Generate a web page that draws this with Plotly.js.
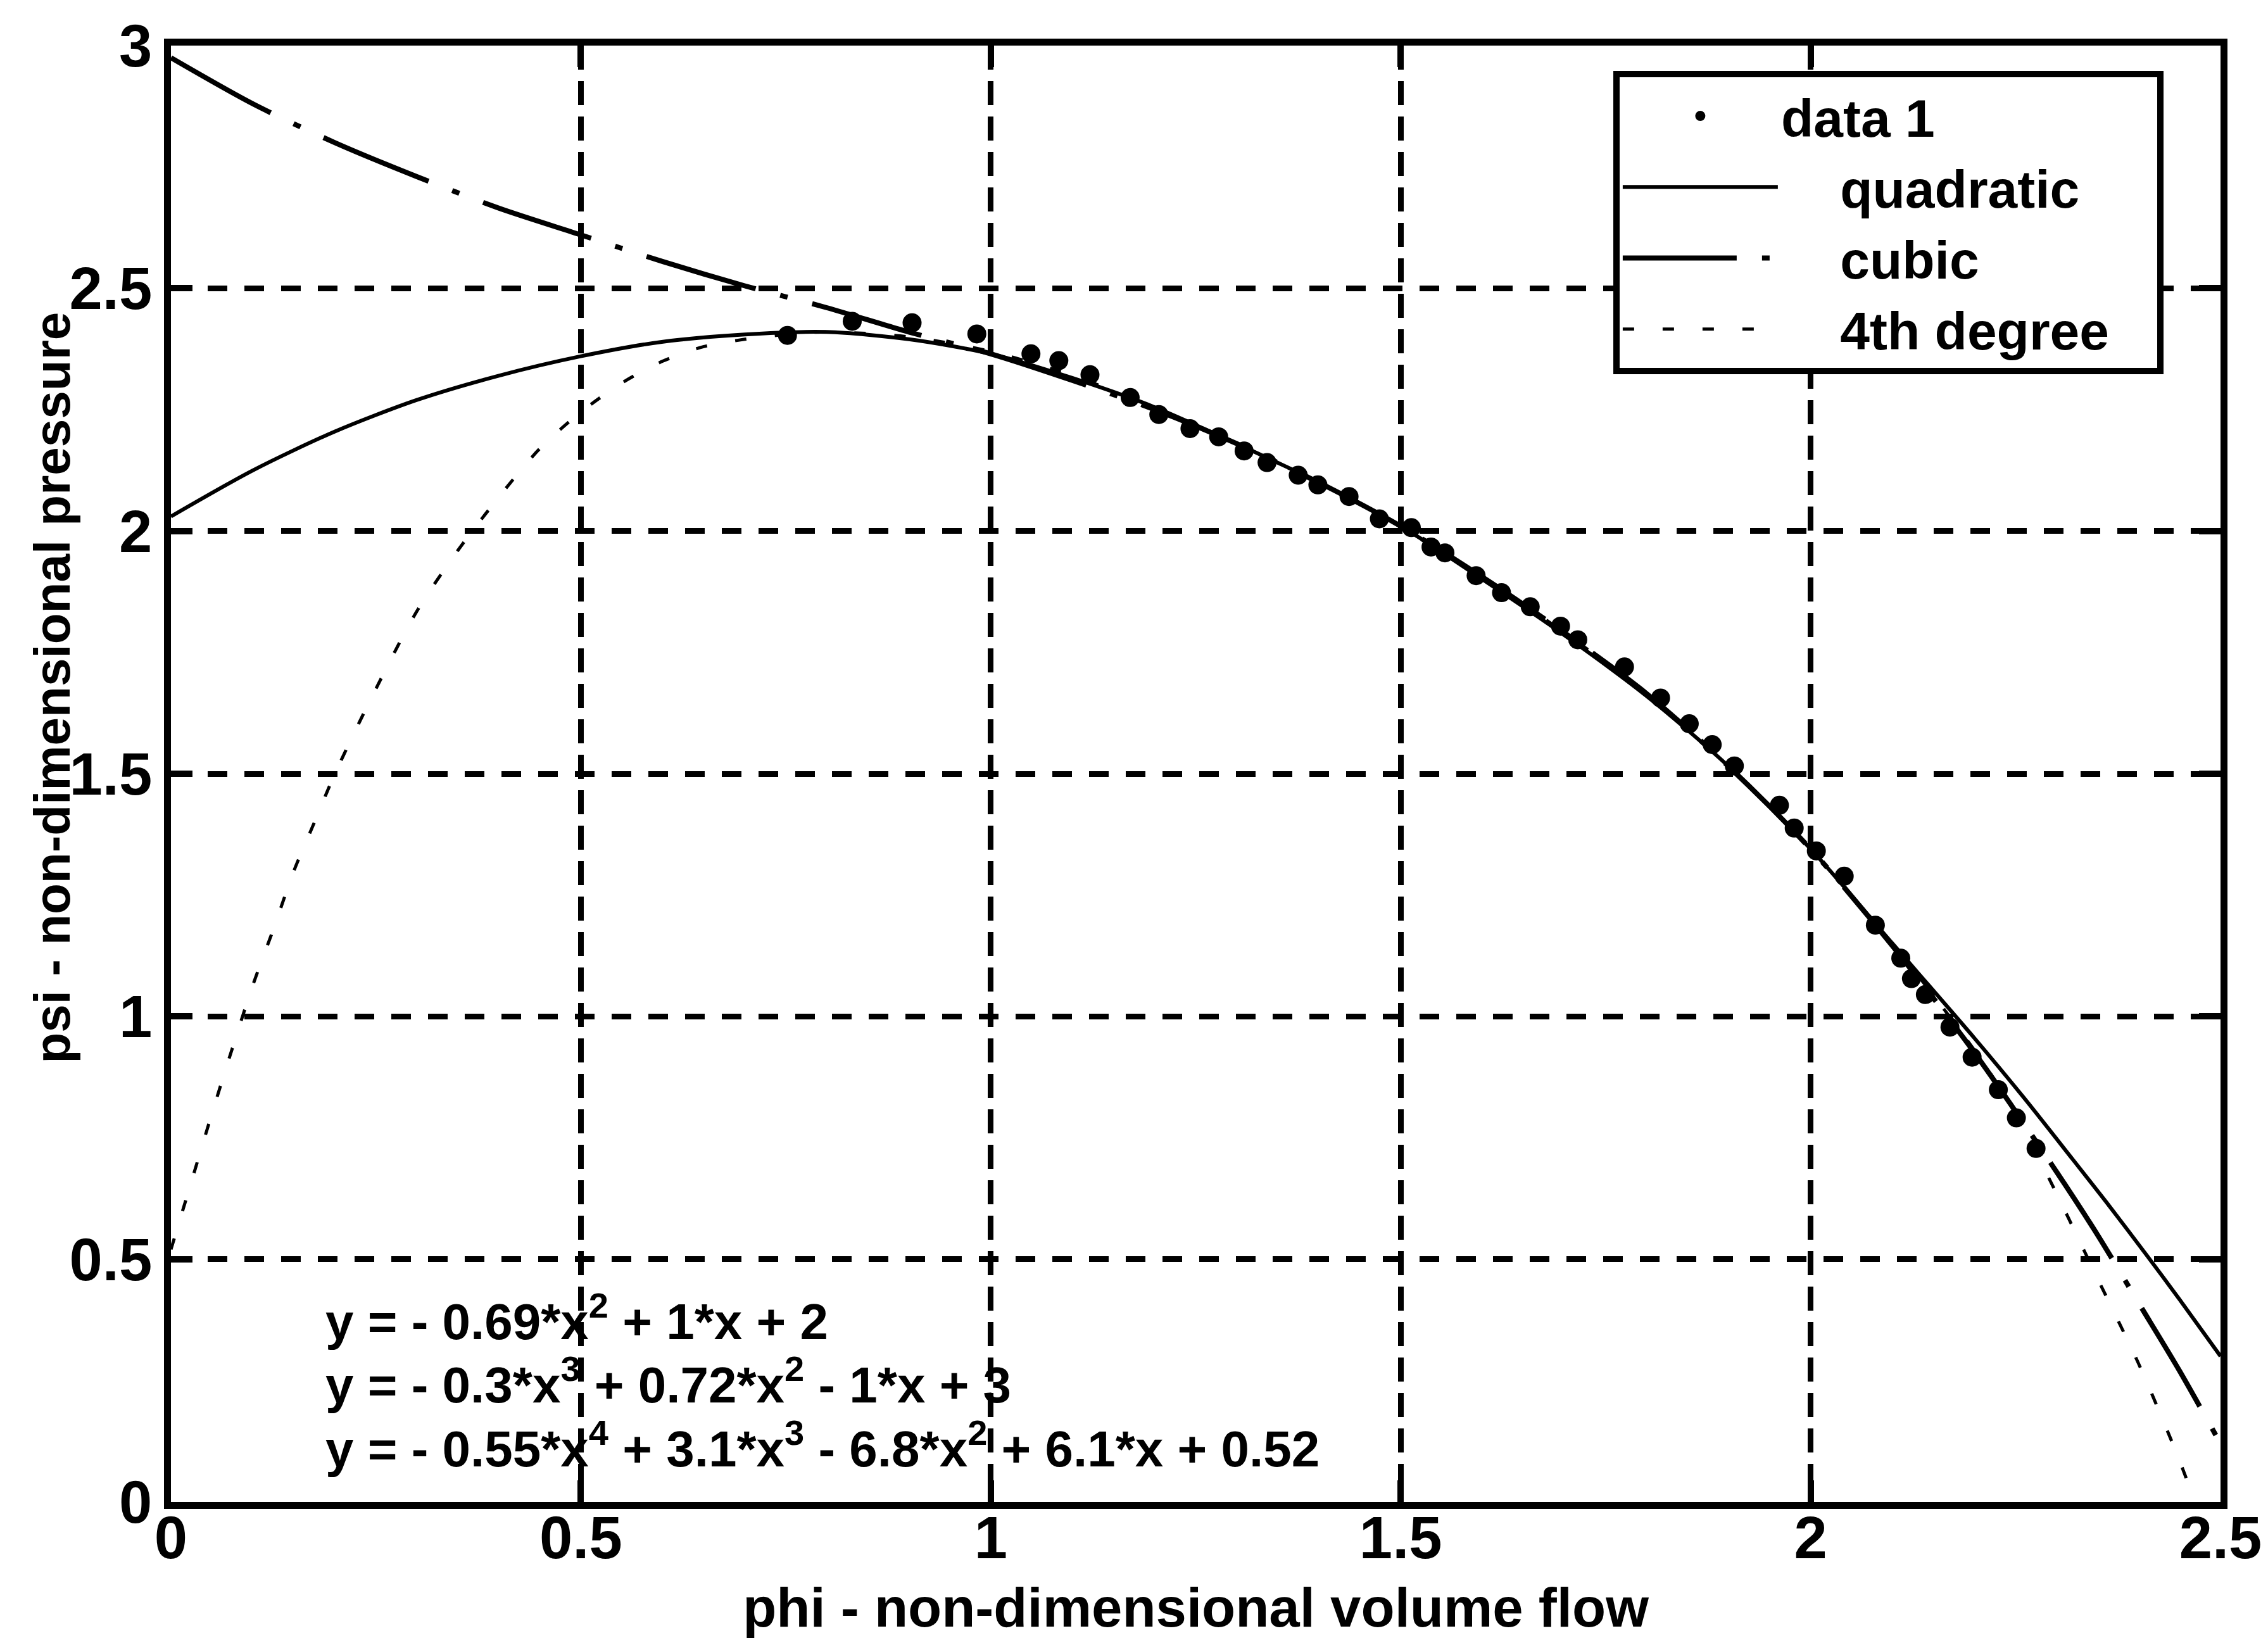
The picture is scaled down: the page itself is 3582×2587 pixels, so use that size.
<!DOCTYPE html>
<html>
<head>
<meta charset="utf-8">
<script src="https://cdn.plot.ly/plotly-3.0.1.min.js"></script>
<style>
  html, body { margin: 0; padding: 0; background: #ffffff; }
  #chart { width: 3582px; height: 2587px; }
</style>
</head>
<body>
<div id="chart"></div>
<script>
// ---- measured data ("data 1") ----
const dataPhi = [0.752, 0.831, 0.904, 0.983, 1.049, 1.083, 1.121, 1.170, 1.205, 1.243, 1.278, 1.309, 1.337, 1.375, 1.399, 1.437, 1.474, 1.513, 1.537, 1.554, 1.592, 1.623, 1.658, 1.695, 1.716, 1.773, 1.817, 1.852, 1.880, 1.907, 1.962, 1.980, 2.007, 2.041, 2.079, 2.110, 2.123, 2.140, 2.170, 2.197, 2.229, 2.251, 2.275];
const dataPsi = [2.403, 2.432, 2.429, 2.406, 2.365, 2.351, 2.322, 2.275, 2.240, 2.211, 2.194, 2.165, 2.141, 2.115, 2.095, 2.071, 2.025, 2.007, 1.967, 1.955, 1.908, 1.873, 1.844, 1.804, 1.776, 1.720, 1.656, 1.603, 1.560, 1.516, 1.435, 1.388, 1.341, 1.289, 1.188, 1.120, 1.078, 1.045, 0.978, 0.916, 0.849, 0.791, 0.728];

// ---- fitted curves ----
const quadPhi = [0, 0.1, 0.2, 0.3, 0.4, 0.5, 0.6, 0.7, 0.8, 0.9, 1.0, 1.1, 1.2, 1.3, 1.4, 1.5, 1.6, 1.7, 1.8, 1.9, 2.0, 2.1, 2.2, 2.26, 2.32, 2.36, 2.41, 2.45, 2.5];
const quadPsi = [2.03, 2.125, 2.205, 2.27, 2.32, 2.36, 2.39, 2.405, 2.41, 2.395, 2.365, 2.315, 2.255, 2.18, 2.10, 2.01, 1.90, 1.785, 1.66, 1.515, 1.345, 1.15, 0.955, 0.833, 0.705, 0.619, 0.508, 0.417, 0.30];

const cubicPhi = [0, 0.1, 0.2, 0.3, 0.4, 0.5, 0.6, 0.7, 0.8, 0.9, 1.0, 1.1, 1.2, 1.3, 1.4, 1.5, 1.6, 1.7, 1.8, 1.9, 2.0, 2.1, 2.2, 2.3, 2.35, 2.4, 2.45, 2.5];
const cubicPsi = [2.975, 2.88, 2.80, 2.73, 2.665, 2.61, 2.555, 2.505, 2.46, 2.41, 2.365, 2.31, 2.25, 2.18, 2.10, 2.01, 1.905, 1.79, 1.665, 1.515, 1.345, 1.145, 0.925, 0.68, 0.55, 0.41, 0.27, 0.12];

const quarticPhi = [0, 0.025, 0.05, 0.075, 0.1, 0.125, 0.15, 0.175, 0.2, 0.25, 0.3, 0.35, 0.4, 0.45, 0.5, 0.55, 0.6, 0.65, 0.7, 0.75, 0.8, 0.9, 1.0, 1.1, 1.2, 1.3, 1.4, 1.5, 1.6, 1.7, 1.8, 1.9, 2.0, 2.1, 2.2, 2.25, 2.3, 2.35, 2.4, 2.45, 2.475];
const quarticPsi = [0.52, 0.66, 0.80, 0.935, 1.065, 1.18, 1.30, 1.40, 1.50, 1.675, 1.835, 1.96, 2.07, 2.17, 2.245, 2.305, 2.35, 2.38, 2.395, 2.405, 2.41, 2.40, 2.37, 2.32, 2.255, 2.18, 2.10, 2.01, 1.905, 1.79, 1.665, 1.515, 1.345, 1.15, 0.93, 0.80, 0.635, 0.46, 0.285, 0.085, -0.03];

const seriesNames = ['data 1', '\u00a0\u00a0\u00a0\u00a0quadratic', '\u00a0\u00a0\u00a0\u00a0cubic', '\u00a0\u00a0\u00a0\u00a04th degree\u00a0\u00a0\u00a0'];
const fitEquations = [
  'y = - 0.69*x<sup>2</sup> + 1*x + 2',
  'y = - 0.3*x<sup>3</sup> + 0.72*x<sup>2</sup> - 1*x + 3',
  'y = - 0.55*x<sup>4</sup> + 3.1*x<sup>3</sup> - 6.8*x<sup>2</sup> + 6.1*x + 0.52'
];
const xTickVals = [0, 0.5, 1, 1.5, 2, 2.5];
const xTickText = ['0', '0.5', '1', '1.5', '2', '2.5'];
const yTickVals = [0, 0.5, 1, 1.5, 2, 2.5, 3];
const yTickText = ['0', '0.5', '1', '1.5', '2', '2.5', '3'];
const xTitle = 'phi - non-dimensional volume flow';
const yTitle = 'psi - non-dimensional pressure';

const FONT = 'Liberation Sans, Arial, Helvetica, sans-serif';

const traces = [
  { x: dataPhi, y: dataPsi, name: seriesNames[0], type: 'scatter', mode: 'markers',
    marker: { color: '#000', size: 30, symbol: 'circle' } },
  { x: quadPhi, y: quadPsi, name: seriesNames[1], type: 'scatter', mode: 'lines',
    line: { color: '#000', width: 6, dash: 'solid', shape: 'spline', smoothing: 0.8 } },
  { x: cubicPhi, y: cubicPsi, name: seriesNames[2], type: 'scatter', mode: 'lines',
    line: { color: '#000', width: 8, dash: '180px,40px,12px,40px', shape: 'spline', smoothing: 0.8 } },
  { x: quarticPhi, y: quarticPsi, name: seriesNames[3], type: 'scatter', mode: 'lines',
    line: { color: '#000', width: 5, dash: '18px,45px', shape: 'spline', smoothing: 0.8 } }
];

const axisCommon = {
  showline: true, linecolor: '#000', linewidth: 11, mirror: 'ticks',
  ticks: 'inside', ticklen: 34, tickwidth: 10, tickcolor: '#000',
  showgrid: true, gridcolor: '#000', gridwidth: 9,
  zeroline: false, automargin: false,
  tickfont: { family: FONT, size: 94, color: '#000', weight: 'bold' }
};

const annotations = [];
const eqY = [0.380, 0.249, 0.117];
fitEquations.forEach((t, i) => {
  annotations.push({ xref: 'x', yref: 'y', x: 0.187, y: eqY[i], xanchor: 'left', yanchor: 'middle',
    text: t, showarrow: false, font: { family: FONT, size: 80, color: '#000', weight: 'bold' } });
});
annotations.push({ xref: 'paper', yref: 'paper', x: -0.058, y: 0.559, xanchor: 'center', yanchor: 'middle',
  text: yTitle, textangle: -90, showarrow: false, font: { family: FONT, size: 80, color: '#000', weight: 'bold' } });

const layout = {
  width: 3582, height: 2587,
  paper_bgcolor: '#fff', plot_bgcolor: '#fff',
  margin: { l: 270, r: 75, t: 72, b: 215, pad: 0 },
  showlegend: true,
  xaxis: Object.assign({}, axisCommon, {
    range: [0, 2.5], tickvals: xTickVals, ticktext: xTickText, griddash: '38px,18px',
    ticklabelstandoff: -35,
    title: { text: xTitle, font: { family: FONT, size: 87, color: '#000', weight: 'bold' }, standoff: 60 }
  }),
  yaxis: Object.assign({}, axisCommon, {
    range: [0, 3], tickvals: yTickVals, ticktext: yTickText, griddash: '31px,27px'
  }),
  legend: {
    x: 0.7037, y: 0.9826, xanchor: 'left', yanchor: 'top',
    bgcolor: '#fff', bordercolor: '#000', borderwidth: 10,
    font: { family: FONT, size: 84, color: '#000', weight: 'bold' },
    itemwidth: 245, tracegroupgap: 0
  },
  annotations: annotations
};

Plotly.newPlot('chart', traces, layout, { displayModeBar: false, staticPlot: true });
</script>
</body>
</html>
